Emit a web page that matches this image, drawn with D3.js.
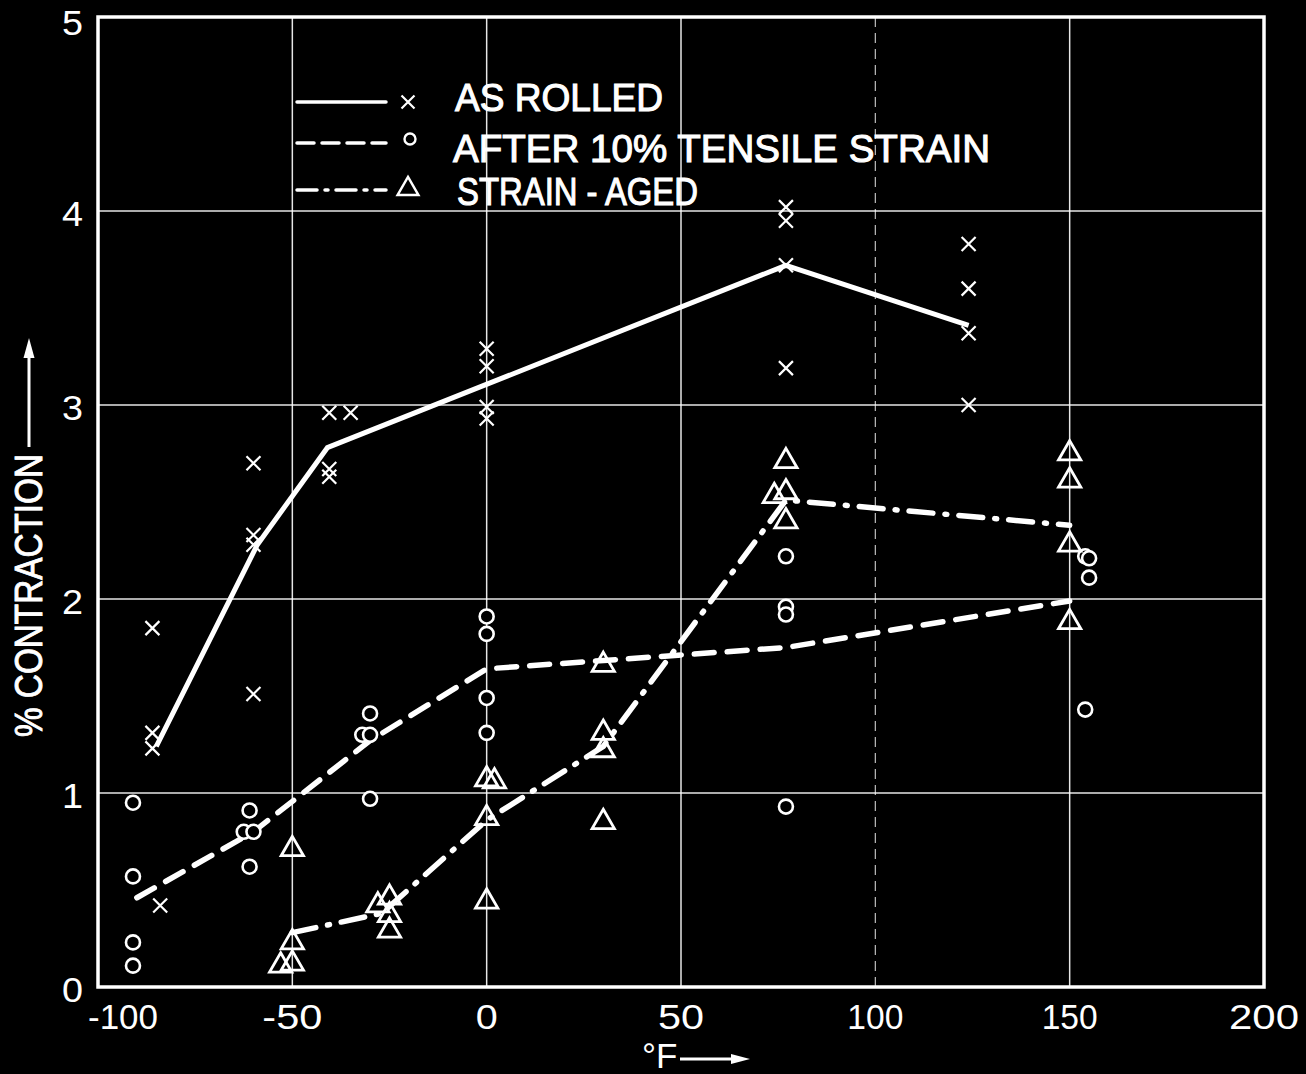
<!DOCTYPE html>
<html>
<head>
<meta charset="utf-8">
<script src="https://cdn.jsdelivr.net/npm/d3@7"></script>
<style>
  html, body { margin: 0; padding: 0; background: #000; }
  svg { display: block; }
</style>
</head>
<body>
<svg id="chart" width="1306" height="1074"></svg>
<script>
// ---------- data ----------
const xTicks = [-100, -50, 0, 50, 100, 150, 200];
const yTicks = [0, 1, 2, 3, 4, 5];

// AS ROLLED (x markers)
const asRolledX = [-86, -86, -86, -84, -60, -60, -60, -60, -40.5, -40.5, -40.5, -35, 0, 0, 0, 0, 77, 77, 77, 77, 124, 124, 124, 124];
const asRolledY = [1.85, 1.31, 1.23, 0.42, 2.70, 2.33, 2.28, 1.51, 2.96, 2.67, 2.63, 2.96, 3.29, 3.20, 2.99, 2.93, 4.02, 3.95, 3.72, 3.19, 3.83, 3.60, 3.37, 3.00];
const asRolledLineX = [-85, -59, -41, 77, 124];
const asRolledLineY = [1.24, 2.28, 2.78, 3.72, 3.41];

// AFTER 10% TENSILE STRAIN (circles)
const strainX = [-91, -91, -91, -91, -61, -62.5, -60, -61, -30, -32, -30, -30, 0, 0, 0, 0, 77, 77, 77, 77, 154, 155, 155, 154];
const strainY = [0.95, 0.57, 0.23, 0.11, 0.91, 0.80, 0.80, 0.62, 1.41, 1.30, 1.30, 0.97, 1.91, 1.82, 1.49, 1.31, 2.22, 1.96, 1.92, 0.93, 2.22, 2.21, 2.11, 1.43];
const strainLineX = [-90, -60, -30, 0, 77, 150];
const strainLineY = [0.46, 0.80, 1.27, 1.64, 1.75, 1.99];

// STRAIN-AGED (triangles)
const agedX = [-50, -50, -50, -53, -28, -25, -25, -25, 0, 2, 0, 0, 30, 30, 30, 30, 77, 77, 74, 77, 150, 150, 150, 150];
const agedY = [0.71, 0.23, 0.12, 0.11, 0.42, 0.46, 0.37, 0.29, 1.07, 1.06, 0.87, 0.44, 1.66, 1.31, 1.22, 0.85, 2.71, 2.55, 2.53, 2.40, 2.75, 2.61, 2.28, 1.88];
const agedLineX = [-50, -27, 0, 30, 77, 150];
const agedLineY = [0.28, 0.38, 0.86, 1.24, 2.51, 2.38];

const legendLabels = ["AS ROLLED", "AFTER 10% TENSILE STRAIN", "STRAIN - AGED"];
const yTitle = "% CONTRACTION";
const xTitle = "°F";

// ---------- drawing ----------
const svg = d3.select("#chart");
const W = 1306, H = 1074;
svg.append("rect").attr("width", W).attr("height", H).attr("fill", "#000");

const x = d3.scaleLinear().domain([-100, 200]).range([98, 1264]);
const y = d3.scaleLinear().domain([0, 5]).range([987, 17]);
const FG = "#fff";
const FONT = "'Liberation Sans', Arial, sans-serif";

// grid
const grid = svg.append("g");
xTicks.slice(1, -1).forEach(t => {
  grid.append("line")
    .attr("x1", x(t)).attr("x2", x(t))
    .attr("y1", y(5)).attr("y2", y(0))
    .attr("stroke", FG).attr("stroke-width", t === 100 ? 1.2 : 1.5)
    .attr("stroke-dasharray", t === 100 ? "10,6" : null)
    .attr("opacity", t === 100 ? 0.75 : 0.9);
});
yTicks.slice(1, -1).forEach(t => {
  grid.append("line")
    .attr("x1", x(-100)).attr("x2", x(200))
    .attr("y1", y(t)).attr("y2", y(t))
    .attr("stroke", FG).attr("stroke-width", 1.5).attr("opacity", 0.9);
});
// frame
svg.append("rect")
  .attr("x", x(-100)).attr("y", y(5))
  .attr("width", x(200) - x(-100)).attr("height", y(0) - y(5))
  .attr("fill", "none").attr("stroke", FG).attr("stroke-width", 3.5);

// tick labels
function labelLen(s) {
  let w = 0;
  for (const c of s) w += c === "-" ? 12 : (c === "1" ? 8 : 22);
  return w + 2 * (s.length - 1);
}
svg.append("g").selectAll("text").data(xTicks).join("text")
  .attr("x", d => x(d) + (d === -100 ? 25 : 0))
  .attr("y", 1029)
  .attr("text-anchor", "middle")
  .attr("font-family", FONT).attr("font-size", 35)
  .attr("fill", FG)
  .attr("textLength", d => labelLen(String(d)))
  .attr("lengthAdjust", "spacingAndGlyphs")
  .text(d => d);

svg.append("g").selectAll("text").data(yTicks).join("text")
  .attr("x", 83)
  .attr("y", d => y(d) + 15 - (d === 5 ? -3 : 0))
  .attr("text-anchor", "end")
  .attr("font-family", FONT).attr("font-size", 35)
  .attr("fill", FG)
  .attr("textLength", 21)
  .attr("lengthAdjust", "spacingAndGlyphs")
  .text(d => d);

// axis titles
svg.append("text")
  .attr("transform", "translate(42,737) rotate(-90)")
  .attr("font-family", FONT).attr("font-size", 38)
  .attr("fill", FG).attr("stroke", FG).attr("stroke-width", 0.9)
  .attr("textLength", 283).attr("lengthAdjust", "spacingAndGlyphs")
  .text(yTitle);
svg.append("line")
  .attr("x1", 29).attr("x2", 29).attr("y1", 447).attr("y2", 352)
  .attr("stroke", FG).attr("stroke-width", 3);
svg.append("path")
  .attr("d", `M29,338 L23.5,358 L34.5,358 Z`).attr("fill", FG);

svg.append("text")
  .attr("x", 642).attr("y", 1068)
  .attr("font-family", FONT).attr("font-size", 35)
  .attr("fill", FG)
  .text(xTitle);
svg.append("line")
  .attr("x1", 680).attr("x2", 735).attr("y1", 1059).attr("y2", 1059)
  .attr("stroke", FG).attr("stroke-width", 3);
svg.append("path")
  .attr("d", `M750,1059 L731,1054 L731,1064 Z`).attr("fill", FG);

// lines
const line = d3.line().x(d => x(d[0])).y(d => y(d[1]));
const zip = (a, b) => a.map((v, i) => [v, b[i]]);
const plot = svg.append("g");
plot.append("path").datum(zip(asRolledLineX, asRolledLineY))
  .attr("d", line).attr("fill", "none").attr("stroke", FG)
  .attr("stroke-width", 5).attr("stroke-linejoin", "round");
plot.append("path").datum(zip(strainLineX, strainLineY))
  .attr("d", line).attr("fill", "none").attr("stroke", FG)
  .attr("stroke-width", 5.5).attr("stroke-dasharray", "20,13").attr("stroke-linecap", "round");
plot.append("path").datum(zip(agedLineX, agedLineY))
  .attr("d", line).attr("fill", "none").attr("stroke", FG)
  .attr("stroke-width", 5.5).attr("stroke-dasharray", "24,12,2,12").attr("stroke-linecap", "round");

// markers
const cross = (g, cx, cy, r) => {
  g.append("path")
    .attr("d", `M${cx - r},${cy - r}L${cx + r},${cy + r}M${cx - r},${cy + r}L${cx + r},${cy - r}`)
    .attr("stroke", FG).attr("stroke-width", 2.2).attr("fill", "none");
};
const mk = svg.append("g");
zip(asRolledX, asRolledY).forEach(d => cross(mk, x(d[0]), y(d[1]), 7));
mk.selectAll("circle.s").data(zip(strainX, strainY)).join("circle")
  .attr("cx", d => x(d[0])).attr("cy", d => y(d[1])).attr("r", 7)
  .attr("fill", "#000").attr("stroke", FG).attr("stroke-width", 2.6);
const tri = d3.symbol().type(d3.symbolTriangle).size(215);
mk.selectAll("path.t").data(zip(agedX, agedY)).join("path")
  .attr("transform", d => `translate(${x(d[0])},${y(d[1])})`)
  .attr("d", tri)
  .attr("fill", "none").attr("stroke", FG).attr("stroke-width", 2.8).attr("stroke-linejoin", "miter");

// legend
const leg = svg.append("g");
const rows = [102, 143, 190];
const dashes = [null, "17,8", "20,8,3,8"];
rows.forEach((ry, i) => {
  leg.append("line").attr("x1", 297).attr("x2", 386).attr("y1", ry).attr("y2", ry)
    .attr("stroke", FG).attr("stroke-width", 3.5)
    .attr("stroke-dasharray", dashes[i]).attr("stroke-linecap", "round");
});
cross(leg, 408, 102, 6.5);
leg.append("circle").attr("cx", 410).attr("cy", 139).attr("r", 5.5)
  .attr("fill", "none").attr("stroke", FG).attr("stroke-width", 2.4);
const triLeg = d3.symbol().type(d3.symbolTriangle).size(190);
leg.append("path").attr("transform", "translate(408,189)").attr("d", triLeg)
  .attr("fill", "none").attr("stroke", FG).attr("stroke-width", 2.4);
const legX = [455, 453, 457];
const legBase = [111, 162, 205];
const legLen = [208, 537, 241];
legendLabels.forEach((t, i) => {
  leg.append("text")
    .attr("x", legX[i]).attr("y", legBase[i])
    .attr("font-family", FONT).attr("font-size", 39)
    .attr("fill", FG).attr("stroke", FG).attr("stroke-width", 1.1)
    .attr("textLength", legLen[i]).attr("lengthAdjust", "spacingAndGlyphs")
    .style("white-space", "pre")
    .text(t);
});
</script>
</body>
</html>
